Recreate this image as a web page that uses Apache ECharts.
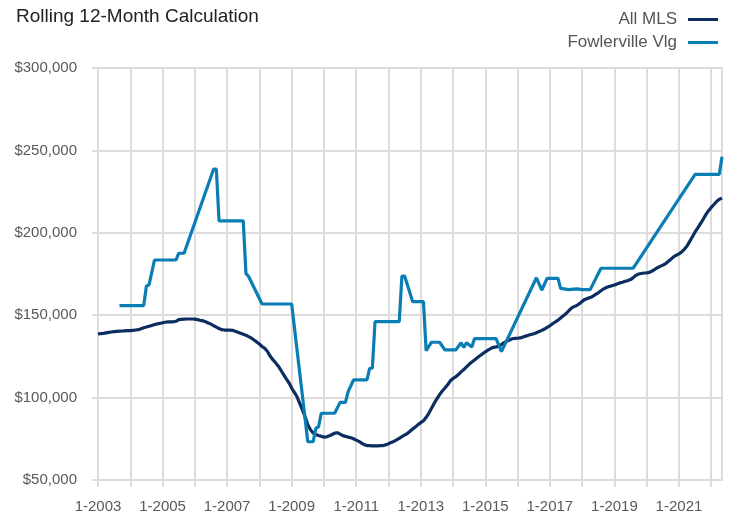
<!DOCTYPE html>
<html>
<head>
<meta charset="utf-8">
<script src="https://cdn.jsdelivr.net/npm/echarts@6/dist/echarts.min.js"></script>
<style>
  html, body { margin: 0; padding: 0; background: #fff; }
  #main { width: 732px; height: 515px; }
</style>
</head>
<body>
<div id="main"></div>
<script>
// months 1-2003 .. 5-2022
var startYear = 2003;
var monthCount = 233;
var yTicks = [50000, 100000, 150000, 200000, 250000, 300000];

// All MLS, rolling 12-month value in $ thousands, one per month
var allMlsK = [
  138.6, 138.8, 139.0, 139.3, 139.6, 139.8, 140.0, 140.2, 140.3, 140.4, 140.5, 140.6,
  140.6, 140.8, 141.0, 141.2, 141.8, 142.4, 142.8, 143.3, 143.8, 144.3, 144.7, 145.0,
  145.4, 145.7, 145.9, 146.0, 146.0, 146.3, 147.3, 147.5, 147.6, 147.7, 147.7, 147.7,
  147.6, 147.3, 146.9, 146.6, 146.0, 145.3, 144.6, 143.6, 142.8, 141.9, 141.2, 141.0,
  140.9, 140.9, 140.8, 140.2, 139.6, 139.0, 138.4, 137.8, 137.0, 136.2, 135.0, 133.8,
  132.5, 131.0, 129.9, 128.0, 125.2, 123.0, 121.2, 119.2, 116.6, 114.0, 111.4, 109.0,
  105.8, 103.2, 100.5, 96.5, 92.5, 88.3, 83.5, 80.5, 78.5, 77.6, 77.0, 76.5,
  76.0, 76.2, 76.8, 77.6, 78.4, 78.7, 77.8, 76.9, 76.5, 76.0, 75.6, 75.0,
  74.2, 73.4, 72.4, 71.4, 70.9, 70.8, 70.7, 70.7, 70.7, 70.8, 70.9, 71.3,
  72.0, 72.8, 73.4, 74.3, 75.3, 76.3, 77.3, 78.2, 79.6, 81.0, 82.2, 83.6,
  84.8, 86.0, 88.0, 90.5, 93.5, 96.5, 99.3, 101.8, 104.0, 105.8, 107.8, 110.2,
  111.6, 112.6, 114.0, 115.6, 117.0, 118.6, 120.2, 121.6, 122.8, 124.2, 125.4, 126.6,
  127.8, 128.8, 129.8, 130.5, 130.8, 131.2, 132.2, 133.4, 134.3, 135.0, 135.7, 135.9,
  136.0, 136.2, 136.8, 137.3, 137.8, 138.3, 138.8, 139.4, 140.1, 140.8, 141.6, 142.6,
  143.6, 144.8, 145.9, 147.0, 148.3, 149.6, 151.0, 152.6, 154.3, 155.2, 155.9, 157.0,
  158.4, 159.6, 160.2, 160.7, 161.5, 162.6, 163.6, 164.8, 166.0, 166.8, 167.4, 167.8,
  168.4, 169.0, 169.6, 170.0, 170.6, 171.0, 171.6, 172.8, 174.2, 175.0, 175.3, 175.6,
  175.7, 176.0, 176.8, 177.8, 178.8, 179.6, 180.4, 181.2, 182.6, 184.0, 185.4, 186.4,
  187.2, 188.4, 190.0, 192.0, 194.8, 197.6, 200.5, 203.0, 205.6, 208.2, 211.0, 213.4,
  215.4, 217.2, 219.0, 220.4, 221.0
];

// Fowlerville Vlg: months that have a reported value (index from 1-2003) and the value
var fowlerIdx = [8, 17, 18, 19, 21, 29, 30, 32, 43, 44, 45, 54, 55, 56, 61, 72, 78, 80, 81, 82,
  83, 88, 90, 92, 93, 95, 100, 101, 102, 103, 112, 113, 114, 117, 121, 122, 124, 127, 129, 133,
  135, 136, 137, 139, 140, 148, 150, 163, 165, 167, 171, 172, 175, 178, 180, 183, 187, 199, 222, 231, 232];
var fowlerVal = [155800, 155800, 167700, 168500, 183500, 183500, 187600, 187600, 238700, 238700,
  207200, 207200, 175400, 173500, 156800, 156800, 73200, 73200, 81400, 82300,
  90500, 90500, 97100, 97100, 103600, 110700, 110700, 117800, 117800, 146100,
  146100, 173800, 173800, 158200, 158200, 128500, 133600, 133600, 128900, 128900,
  133300, 130500, 133300, 130700, 135800, 135800, 127900, 172700, 165300, 172400,
  172400, 166300, 165500, 166000, 165500, 165500, 178500, 178500, 235500, 235500, 246200];

var categories = [];
for (var i = 0; i < monthCount; i++) {
  categories.push((i % 12 + 1) + '-' + (startYear + Math.floor(i / 12)));
}
var allMls = allMlsK.map(function (v) { return Math.round(v * 1000); });
var fowler = categories.map(function () { return null; });
fowlerIdx.forEach(function (m, k) { fowler[m] = fowlerVal[k]; });

var chart = echarts.init(document.getElementById('main'));
var font = '"Liberation Sans", Arial, sans-serif';
var gridColor = '#dcdcdc';

chart.setOption({
  animation: false,
  textStyle: { fontFamily: font },
  title: {
    text: 'Rolling 12-Month Calculation',
    left: 11,
    top: 2,
    textStyle: { fontFamily: font, fontSize: 19, fontWeight: 'normal', color: '#222' }
  },
  legend: {
    orient: 'vertical',
    right: 9,
    top: 6,
    align: 'right',
    icon: 'rect',
    itemWidth: 30,
    itemHeight: 3,
    itemGap: 6,
    textStyle: { fontFamily: font, fontSize: 17, color: '#555', padding: [0, 6, 0, 0] },
    data: ['All MLS', 'Fowlerville Vlg']
  },
  grid: {
    left: 98, right: 10, top: 68, bottom: 35,
    show: true, borderColor: gridColor, borderWidth: 2
  },
  xAxis: {
    type: 'category',
    boundaryGap: false,
    data: categories,
    axisLine: { lineStyle: { color: gridColor, width: 2 } },
    axisTick: { interval: 11, length: 7, lineStyle: { color: gridColor, width: 2 } },
    axisLabel: { interval: 23, margin: 19, fontFamily: font, fontSize: 15, color: '#595959' },
    splitLine: { show: true, interval: 11, lineStyle: { color: gridColor, width: 2 } }
  },
  yAxis: {
    type: 'value',
    min: yTicks[0],
    max: yTicks[yTicks.length - 1],
    interval: 50000,
    axisLine: { show: false },
    axisTick: { show: true, length: 6, lineStyle: { color: gridColor, width: 2 } },
    axisLabel: {
      margin: 21,
      fontFamily: font,
      fontSize: 15,
      color: '#595959',
      formatter: function (v) { return '$' + v.toLocaleString('en-US'); }
    },
    splitLine: { lineStyle: { color: gridColor, width: 2 } }
  },
  series: [
    {
      name: 'All MLS',
      type: 'line',
      data: allMls,
      showSymbol: false,
      color: '#0b2d5f',
      lineStyle: { width: 3.2, color: '#0b2d5f' }
    },
    {
      name: 'Fowlerville Vlg',
      type: 'line',
      data: fowler,
      connectNulls: true,
      showSymbol: false,
      color: '#0a7db4',
      lineStyle: { width: 3.2, color: '#0a7db4' }
    }
  ]
});
</script>
</body>
</html>
